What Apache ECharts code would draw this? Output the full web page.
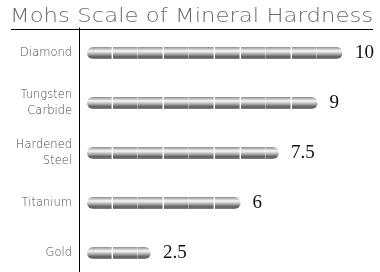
<!DOCTYPE html>
<html><head><meta charset="utf-8">
<script src="https://cdn.jsdelivr.net/npm/echarts@6/dist/echarts.min.js"></script>
<style>html,body{margin:0;padding:0;background:#fff}#c{width:380px;height:272px}</style>
</head><body><div id="c"></div>
<script>
const titleText = 'Mohs Scale of Mineral Hardness';
const categories = ['Diamond', 'Tungsten\nCarbide', 'Hardened\nSteel', 'Titanium', 'Gold'];
const hardness = [10, 9, 7.5, 6, 2.5];

const chart = echarts.init(document.getElementById('c'), null, {renderer: 'canvas'});
const metal = () => new echarts.graphic.LinearGradient(0, 0, 0, 1, [
  {offset: 0, color: '#8a8a8a'},
  {offset: 0.15, color: '#bdbdbd'},
  {offset: 0.33, color: '#f8f8f8'},
  {offset: 0.48, color: '#cfcfcf'},
  {offset: 0.64, color: '#9a9a9a'},
  {offset: 0.82, color: '#5c5c5c'},
  {offset: 1, color: '#858585'}
]);

chart.setOption({
  animation: false,
  graphic: [
    {type: 'text', left: 10, top: 7, scaleX: 1.14,
     style: {text: titleText, font: '200 20px "DejaVu Sans"', fill: '#6a6a6a'}},
    {type: 'line', shape: {x1: 11, y1: 29.5, x2: 373, y2: 29.5}, style: {stroke: '#000', lineWidth: 1}}
  ],
  grid: {left: 79, top: 28, width: 264, height: 250, containLabel: false, outerBoundsMode: 'none'},
  xAxis: {type: 'value', min: -0.3125, max: 10, show: false},
  yAxis: {
    type: 'category', data: categories, inverse: true,
    axisLine: {show: true, onZero: false, lineStyle: {color: '#000', width: 1}},
    axisTick: {show: false},
    axisLabel: {margin: 7, color: '#4a4a4a', fontFamily: 'DejaVu Sans', fontWeight: 200, fontSize: 11.5, lineHeight: 16, align: 'right'}
  },
  series: [{
    type: 'custom',
    encode: {x: 0, y: 1},
    clip: false,
    data: hardness.map((v, i) => [v, i]),
    renderItem: function (params, api) {
      const v = api.value(0), c = api.value(1);
      const h = 12;
      const children = [];
      const n = Math.ceil(v);
      for (let i = 0; i < n; i++) {
        const a = api.coord([i, c]);
        const b = api.coord([Math.min(i + 1, v), c]);
        const last = i === n - 1;
        const w = b[0] - a[0] - (last ? 0 : 1);
        const r = [i === 0 ? 6 : 0, last ? 6 : 0, last ? 6 : 0, i === 0 ? 6 : 0];
        children.push({type: 'rect', shape: {x: Math.round(a[0]), y: Math.round(a[1] - h / 2), width: w, height: h, r: r},
          style: {fill: metal()}});
      }
      const e = api.coord([v, c]);
      children.push({type: 'text', style: {text: String(v), x: e[0] + 12, y: e[1], verticalAlign: 'middle',
        font: '19px "Liberation Serif"', fill: '#111'}});
      return {type: 'group', children: children};
    }
  }]
});
</script></body></html>
